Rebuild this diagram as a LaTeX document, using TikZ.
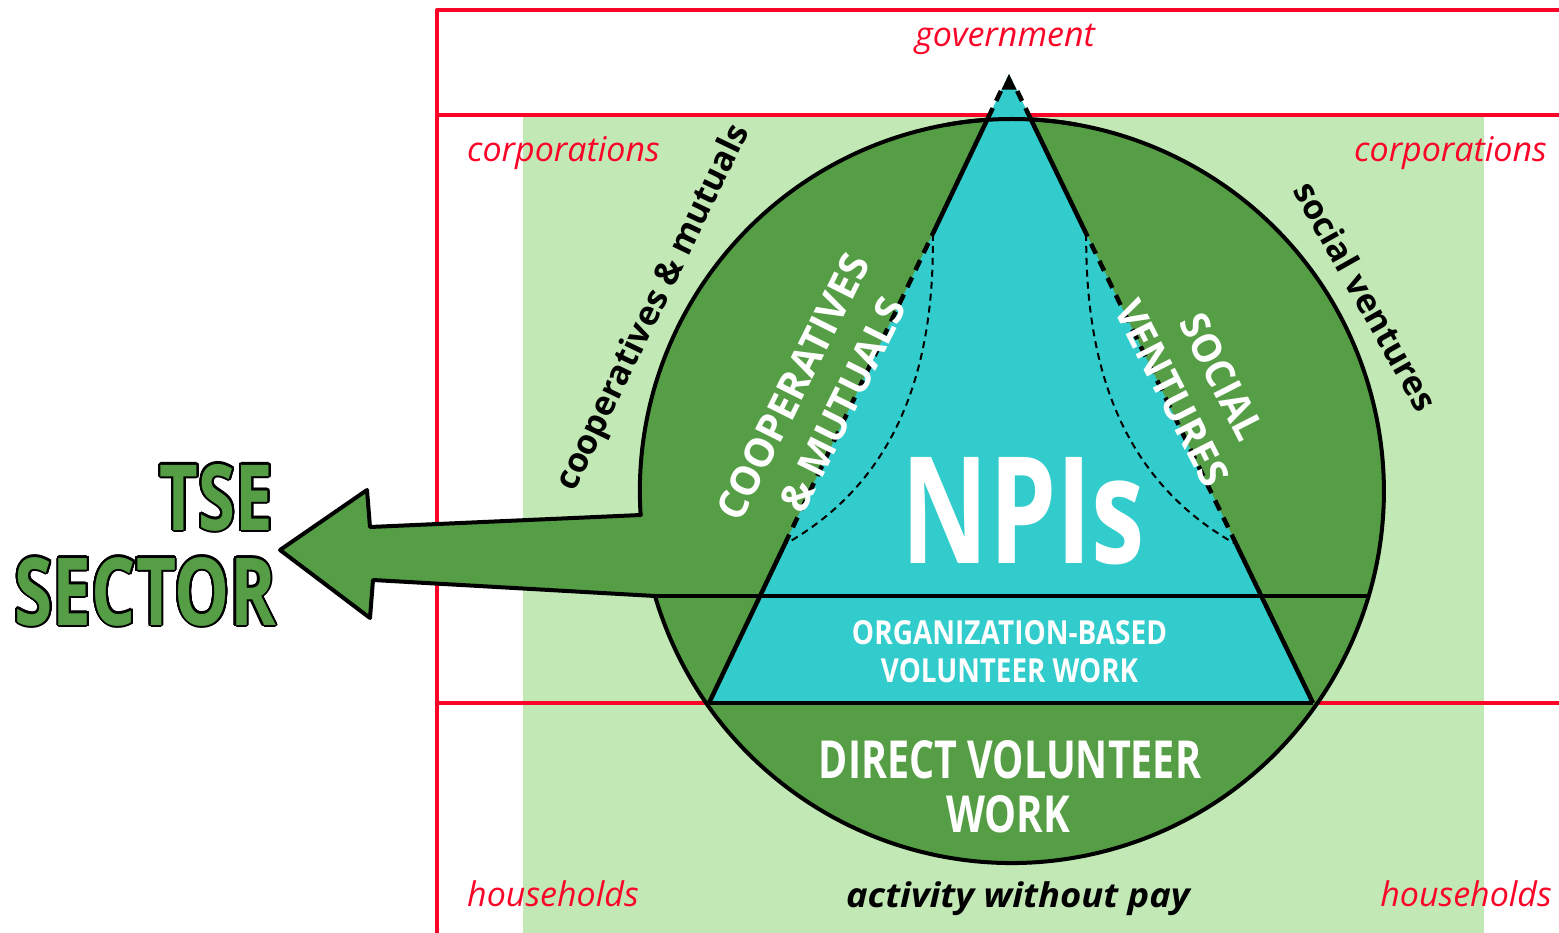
\documentclass[tikz,border=0pt]{standalone}
\usepackage{graphicx}
\usepackage{fontspec}
\setmainfont{Open Sans}
\newfontfamily\osc{Open Sans}[FakeStretch=0.75]
\usepackage{contour}
\contournumber{32}
\contourlength{2pt}
\usetikzlibrary{calc}
\definecolor{dkgreen}{RGB}{86,158,69}
\definecolor{npicyan}{RGB}{51,204,204}
\definecolor{ltgreen}{RGB}{194,232,181}
\definecolor{sectred}{RGB}{250,5,40}
\newcommand{\fitcaps}[3]{\resizebox{#1pt}{#2pt}{\osc\bfseries #3}}
\tikzset{
  redline/.style={draw=sectred, line width=4},
  outline/.style={draw=black, line width=4},
  edgesolid/.style={draw=black, line width=4.5, line cap=butt},
  edgedash/.style={draw=black, line width=4.5, dash pattern=on 11 off 8},
  thindash/.style={draw=black, line width=2, dash pattern=on 7 off 5},
  redlabel/.style={text=sectred, font=\fontsize{34}{40}\selectfont\itshape, inner sep=0},
  blacklabel/.style={text=black, font=\fontsize{34}{40}\selectfont\bfseries, inner sep=0},
  capstext/.style={text=white, inner sep=0},
}
\begin{document}
\begin{tikzpicture}[x=1pt,y=-1pt,line join=round]
\useasboundingbox (0,0) rectangle (1559,933);
% light green sector band
\fill[ltgreen] (523,115) rectangle (1484,933);
% red sector frame
\draw[redline] (437,933) -- (437,10) -- (1559,10);
\draw[redline] (437,115) -- (1559,115);
\draw[redline] (437,703) -- (1559,703);
% coordinates
\coordinate (C) at (1012,491);
\coordinate (A) at (1009,74);
\coordinate (L) at (709,703);
\coordinate (R) at (1313,703);
% green circle with arrow
\path[fill=dkgreen, outline] (641,515) -- (370,527) -- (367,490) -- (280,550) -- (370,618) -- (373,580) -- (655,596)
  arc[start angle=163.6, end angle=-183.7, radius=372] -- cycle;
% NPI triangle
\fill[npicyan] (A) -- (L) -- (R) -- cycle;
% circle top arc over triangle
\draw[outline] (C) ++(-100:372) arc[start angle=-100, end angle=-80, radius=372];
% triangle edges
\foreach \s in {L,R}{
  \draw[edgesolid] (\s) -- ($(\s)!0.252!(A)$);
  \draw[edgedash] ($(\s)!0.252!(A)$) -- ($(\s)!0.746!(A)$);
  \draw[edgesolid] ($(\s)!0.746!(A)$) -- ($(\s)!0.93!(A)$);
  \draw[edgedash] ($(\s)!0.93!(A)$) -- ($(\s)!0.975!(A)$);
}
\fill[black] (A) -- ($(L)!0.975!(A)$) -- ($(R)!0.975!(A)$) -- cycle;
% thin dashed curves
\draw[thindash] ($(L)!0.746!(A)$) .. controls (935,380) and (890,485) .. ($(L)!0.252!(A)$);
\draw[thindash] ($(R)!0.746!(A)$) .. controls (1085,380) and (1130,485) .. ($(R)!0.252!(A)$);
% horizontal lines
\draw[outline] (655,596) -- (1369,596);
\draw[outline] (L) -- (R);
% red labels
\node[redlabel, anchor=base] (gov) at (1005,47) {government};
\node[redlabel, anchor=base west] (corpL) at (467,162) {corporations};
\node[redlabel, anchor=base east] (corpR) at (1547,162) {corporations};
\node[redlabel, anchor=base west] (hhL) at (467,906) {households};
\node[redlabel, anchor=base east] (hhR) at (1552,906) {households};
% black labels
\node[blacklabel, font=\fontsize{34}{40}\selectfont\bfseries\itshape, anchor=base] (pay) at (1018,907) {\scalebox{1.07}[1]{activity without pay}};
\node[blacklabel, rotate=64.2, anchor=center] (coopl) at (654,308) {cooperatives \& mutuals};
\node[blacklabel, rotate=-60.6, anchor=center] (socl) at (1366,296) {social ventures};
% caps texts
\node[capstext, anchor=base] (npi) at (1023.5,563) {\fitcaps{243}{106}{NPIs}};
\node[capstext, anchor=base] (org1) at (1009.5,644) {\fitcaps{315}{24}{ORGANIZATION-BASED}};
\node[capstext, anchor=base] (org2) at (1009.5,682) {\fitcaps{257}{24}{VOLUNTEER WORK}};
\node[capstext, anchor=base] (dir1) at (1010,778) {\fitcaps{382}{38}{DIRECT VOLUNTEER}};
\node[capstext, anchor=base] (dir2) at (1008,832) {\fitcaps{124}{37}{WORK}};
\node[capstext, rotate=63.5, anchor=center] (coop1) at (793,387) {\fitcaps{291}{29}{COOPERATIVES}};
\node[capstext, rotate=63.5, anchor=center] (coop2) at (843,405) {\fitcaps{233}{29}{\&\,MUTUALS}};
\node[capstext, rotate=-63, anchor=center] (soc1) at (1222,377) {\fitcaps{136}{29}{SOCIAL}};
\node[capstext, rotate=-63, anchor=center] (soc2) at (1172,393) {\fitcaps{203}{29}{VENTURES}};
% TSE sector
\node[text=dkgreen, inner sep=0, anchor=base east] (tse) at (273,530) {\contour{black}{\fitcaps{113}{66}{TSE}}};
\node[text=dkgreen, inner sep=0, anchor=base east] (sector) at (276,625) {\contour{black}{\fitcaps{261}{68}{SECTOR}}};
\end{tikzpicture}
\end{document}
